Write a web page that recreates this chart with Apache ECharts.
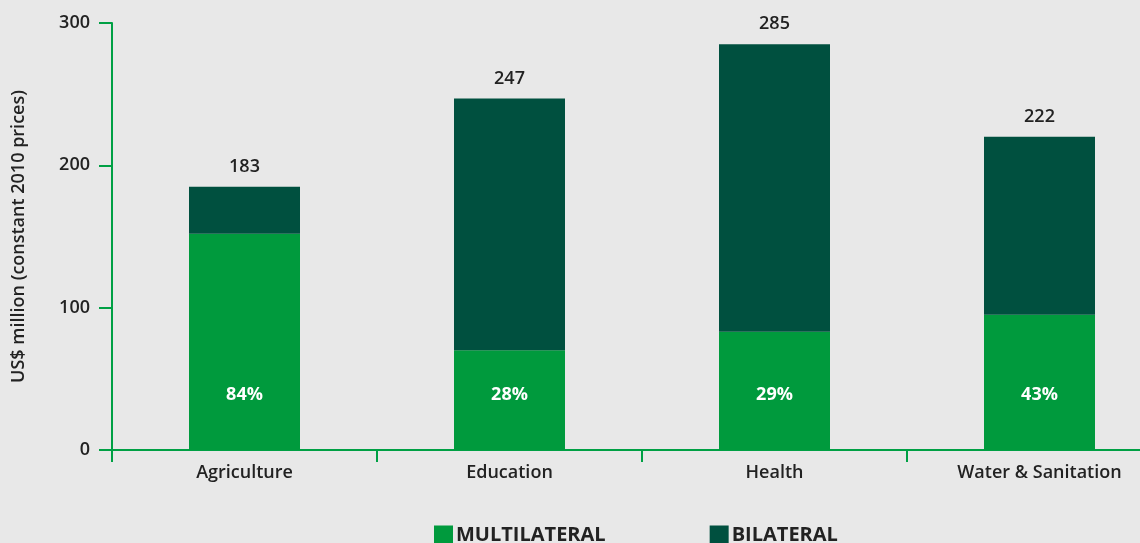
<!DOCTYPE html>
<html><head><meta charset="utf-8">
<script src="https://cdn.jsdelivr.net/npm/echarts@6/dist/echarts.min.js"></script>
<style>html,body{margin:0;padding:0;background:#e8e8e8;}#c{width:1140px;height:543px;}</style>
</head><body><div id="c"></div>
<script>
const categories = ['Agriculture', 'Education', 'Health', 'Water & Sanitation'];
const multilateral = [152, 70, 83, 95];
const bilateral = [33, 177, 202, 125];
const totals = [183, 247, 285, 222];
const multiShare = [84, 28, 29, 43];
const yTicks = [0, 100, 200, 300];

const green = '#009a3d';
const dark = '#00503f';
const axisGreen = '#00a044';
const font = 'Open Sans';
const chart = echarts.init(document.getElementById('c'));
chart.setOption({
  backgroundColor: '#e8e8e8',
  animation: false,
  textStyle: { fontFamily: font, color: '#222' },
  grid: { left: 112, right: -32, top: 23, bottom: 93, containLabel: false, outerBoundsMode: 'none' },
  legend: {
    left: 429, top: 520, itemWidth: 19, itemHeight: 19, itemGap: 104,
    icon: 'rect',
    textStyle: { fontFamily: font, fontSize: 20, fontWeight: 'bold', color: '#222', padding: [0, 0, 0, -2] },
    data: [{ name: 'MULTILATERAL' }, { name: 'BILATERAL' }]
  },
  xAxis: {
    type: 'category', data: categories,
    axisLine: { lineStyle: { color: axisGreen, width: 2 } },
    axisTick: { show: true, length: 12, lineStyle: { color: axisGreen, width: 2 } },
    axisLabel: { fontSize: 18, fontWeight: 600, color: '#222', margin: 14, fontFamily: font }
  },
  yAxis: {
    type: 'value', min: yTicks[0], max: yTicks[yTicks.length - 1], interval: 100,
    name: 'US$ million (constant 2010 prices)', nameLocation: 'middle', nameGap: 84,
    nameTextStyle: { fontSize: 18, fontWeight: 600, color: '#222', fontFamily: font },
    axisLine: { show: true, lineStyle: { color: axisGreen, width: 2 } },
    axisTick: { show: true, length: 13, lineStyle: { color: axisGreen, width: 2 } },
    axisLabel: { fontSize: 18, fontWeight: 600, color: '#222', margin: 22, fontFamily: font },
    splitLine: { show: false }
  },
  series: [
    {
      name: 'MULTILATERAL', type: 'bar', stack: 'a', data: multilateral, barWidth: 111,
      itemStyle: { color: green },
      label: {
        show: true, position: 'insideBottom', distance: 46,
        formatter: p => multiShare[p.dataIndex] + '%',
        color: '#fff', fontSize: 18, fontWeight: 'bold', fontFamily: font
      }
    },
    {
      name: 'BILATERAL', type: 'bar', stack: 'a', data: bilateral, barWidth: 111,
      itemStyle: { color: dark },
      label: {
        show: true, position: 'top', distance: 11,
        formatter: p => String(totals[p.dataIndex]),
        color: '#222', fontSize: 18, fontWeight: 600, fontFamily: font
      }
    }
  ]
});
</script></body></html>
